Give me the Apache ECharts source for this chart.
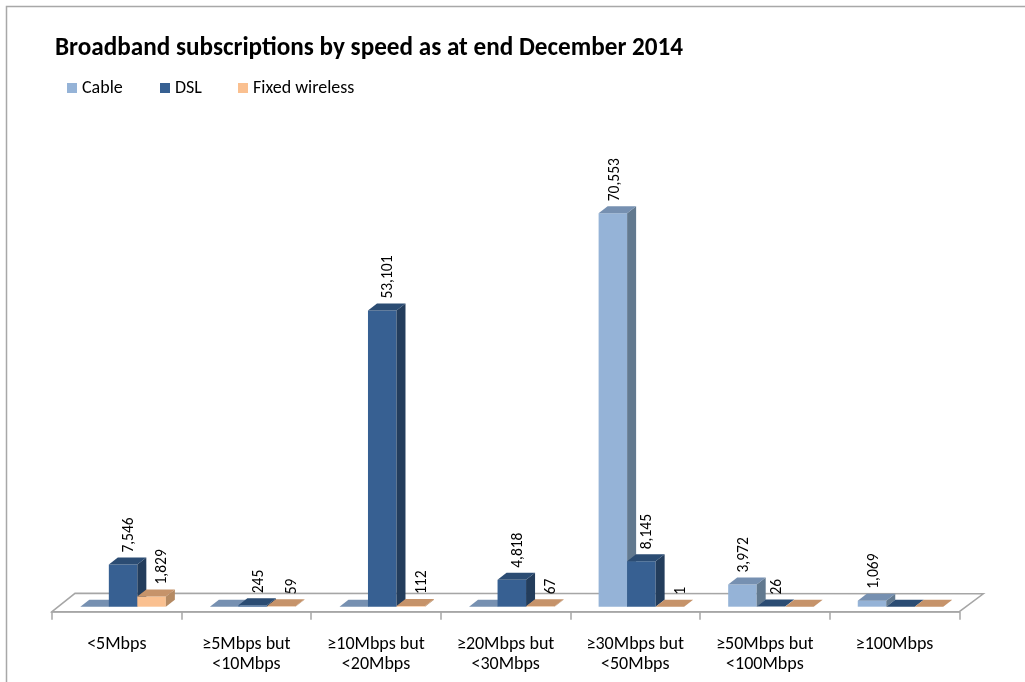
<!DOCTYPE html>
<html>
<head>
<meta charset="utf-8">
<script src="https://cdn.jsdelivr.net/npm/echarts@6/dist/echarts.min.js"></script>
<style>
html,body{margin:0;padding:0;background:#fff;}
#chart{width:1025px;height:682px;}
</style>
</head>
<body>
<div id="chart"></div>
<script>
var categories = ['<5Mbps', '≥5Mbps but\n<10Mbps', '≥10Mbps but\n<20Mbps', '≥20Mbps but\n<30Mbps', '≥30Mbps but\n<50Mbps', '≥50Mbps but\n<100Mbps', '≥100Mbps'];
var cable = [null, null, null, null, 70553, 3972, 1069];
var dsl = [7546, 245, 53101, 4818, 8145, 26, null];
var fixedWireless = [1829, 59, 112, 67, 1, null, null];
var seriesNames = ['Cable', 'DSL', 'Fixed wireless'];

var FONT = "Carlito, Lato, 'Liberation Sans', sans-serif";
var palette = [
  {front: '#95b3d7', side: '#62798f', top: '#7690b1'},
  {front: '#376092', side: '#233d5c', top: '#2b4c73'},
  {front: '#fac090', side: '#b58a63', top: '#c6936a'}
];
var labelShift = [2, 6, 11];
var DX = 9, DY = -7;

function toData(arr) {
  return arr.map(function (v, i) { return [i, v === null ? 0 : v, v === null ? 0 : 1]; });
}

function makeRender(s) {
  return function (params, api) {
    var i = api.value(0), v = api.value(1), show = api.value(2);
    var base = api.coord([i, 0]);
    var top = api.coord([i, v]);
    var band = api.size([1, 0])[0];
    var bw = band * 0.22;
    var x0 = base[0] - 1.5 * bw + s * bw;
    var yb = base[1], yt = top[1];
    var c = palette[s];
    var children = [];
    if (yb - yt > 0.3) {
      children.push({type: 'rect', shape: {x: x0, y: yt, width: bw, height: yb - yt}, style: {fill: c.front}});
      children.push({type: 'polygon', shape: {points: [[x0 + bw, yb], [x0 + bw + DX, yb + DY], [x0 + bw + DX, yt + DY], [x0 + bw, yt]]}, style: {fill: c.side}});
    }
    children.push({type: 'polygon', shape: {points: [[x0, yt], [x0 + DX, yt + DY], [x0 + bw + DX, yt + DY], [x0 + bw, yt]]}, style: {fill: c.top}});
    if (show) {
      children.push({type: 'text', x: x0 + bw / 2 + labelShift[s], y: yt + DY - 5, rotation: Math.PI / 2,
        style: {text: v.toLocaleString('en-US'), fill: '#000', fontSize: 15.5, fontFamily: FONT, align: 'left', verticalAlign: 'middle'}});
    }
    return {type: 'group', children: children};
  };
}

var seriesData = [cable, dsl, fixedWireless];
var series = seriesData.map(function (arr, s) {
  return {
    name: seriesNames[s], type: 'custom', xAxisIndex: 0, yAxisIndex: 0,
    itemStyle: {color: palette[s].front},
    renderItem: makeRender(s), data: toData(arr), z: 3 + s
  };
});

var legendLefts = [62, 155, 233];
var option = {
  animation: false,
  backgroundColor: '#fff',
  title: {text: 'Broadband subscriptions by speed as at end December 2014', left: 50, top: 31,
    textStyle: {fontFamily: FONT, fontSize: 25.2, fontWeight: 'bold', color: '#000'}},
  legend: seriesNames.map(function (n, k) {
    return {data: [n], left: legendLefts[k], top: 74, icon: 'rect', itemWidth: 10, itemHeight: 10,
      textStyle: {fontFamily: FONT, fontSize: 18, color: '#000'}};
  }),
  grid: [
    {left: 58.3, right: 59.7, top: 160.6, bottom: 75.3},
    {left: 52, right: 65.7, bottom: 70.3, height: 20}
  ],
  xAxis: [
    {gridIndex: 0, type: 'category', data: categories, show: false},
    {gridIndex: 1, type: 'category', data: categories,
      axisLine: {show: true, lineStyle: {color: '#a6a6a6', width: 1.5}},
      axisTick: {show: true, length: 8, lineStyle: {color: '#a6a6a6', width: 1.5}},
      axisLabel: {margin: 23, interval: 0, fontFamily: FONT, fontSize: 18, color: '#000', lineHeight: 20}}
  ],
  yAxis: [
    {gridIndex: 0, type: 'value', min: 0, max: 80000, show: false},
    {gridIndex: 1, type: 'value', show: false}
  ],
  graphic: [
    {type: 'rect', shape: {x: 6.5, y: 6.5, width: 1100, height: 1000}, style: {fill: 'none', stroke: '#a8a8a8', lineWidth: 1.5}, z: 0},
    {type: 'polygon', shape: {points: [[52, 611.7], [75, 593.3], [983.3, 593.8], [959.3, 611.7]]},
      style: {fill: '#fff', stroke: '#a6a6a6', lineWidth: 1.5}, z: 1}
  ],
  series: series
};

var chart = echarts.init(document.getElementById('chart'));
chart.setOption(option);
</script>
</body>
</html>
